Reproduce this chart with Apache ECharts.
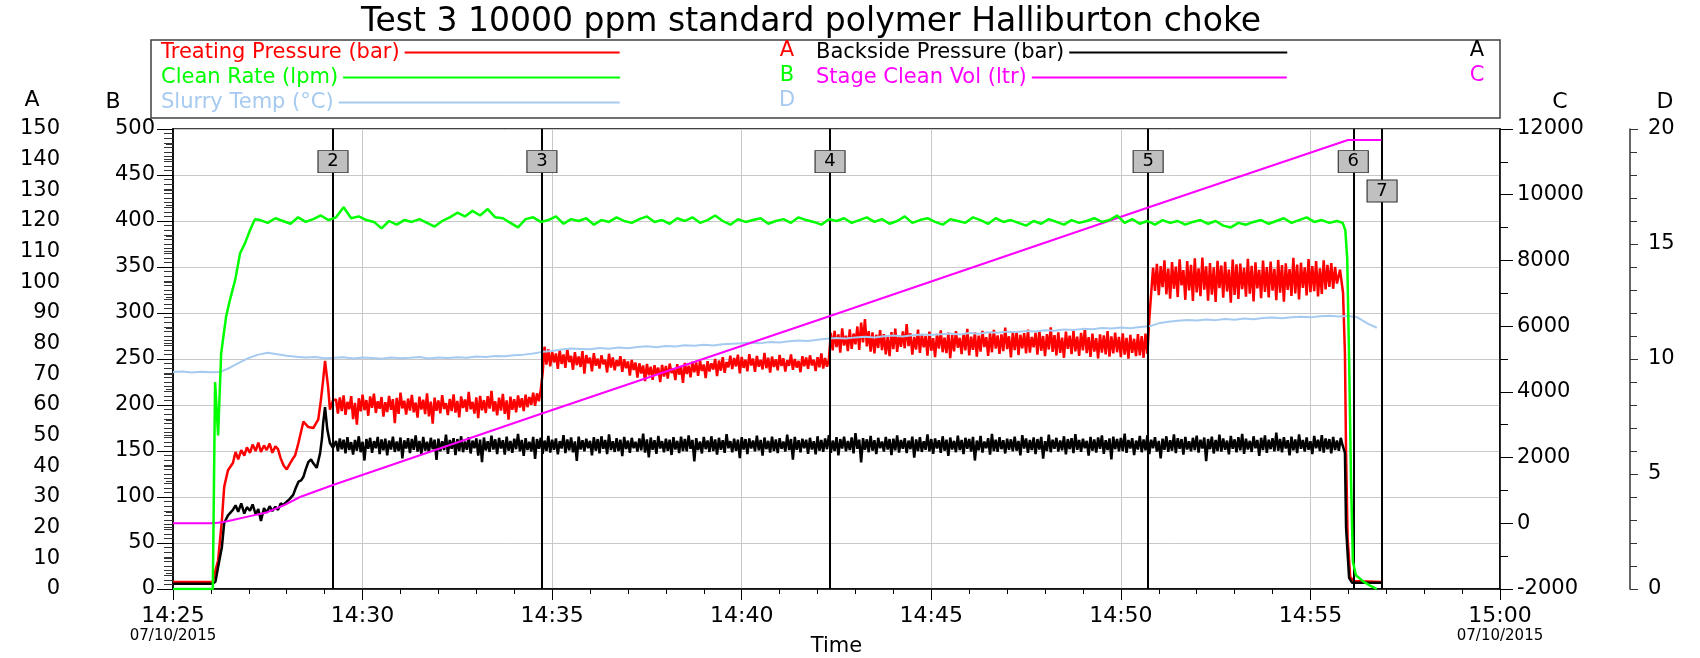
<!DOCTYPE html>
<html>
<head>
<meta charset="utf-8">
<script src="https://cdn.jsdelivr.net/npm/echarts@6/dist/echarts.min.js"></script>
<style>
html,body{margin:0;padding:0;background:#fff;}
#chart{width:1700px;height:658px;}
</style>
</head>
<body>
<div id="chart"></div>
<script>
// ---------- DATA (time in minutes after 14:25) ----------
const timeTickLabels = ['14:25','14:30','14:35','14:40','14:45','14:50','14:55','15:00'];
const dateLabel = '07/10/2015';

const eventTimes  = [4.22, 9.73, 17.33, 25.72, 31.13, 31.89];
const eventLabels = ['2','3','4','5','6','7'];

// Treating Pressure (bar) - axis A
const treatingLead = [[0,2.3],[1.05,2.3],[1.1,5.1],[1.19,9.3],[1.29,22.5],[1.35,33.3],[1.45,38.7],[1.58,41.1],[1.65,44.7],[1.72,42.3],[1.8,45.3],[1.88,43.5],[1.95,46.2],[2.03,44.4],[2.1,47.1],[2.18,45.0],[2.25,47.7],[2.32,44.7],[2.4,46.8],[2.47,45.3],[2.55,47.4],[2.62,44.4],[2.7,46.5],[2.77,45.6],[2.84,42.6],[2.92,40.2],[3.0,39.0],[3.08,40.8],[3.15,42.3],[3.22,43.5],[3.31,47.7],[3.44,54.6],[3.57,52.8],[3.70,52.5],[3.83,55.2],[3.90,61.5],[3.96,68.1],[4.01,74.4],[4.09,66.0],[4.14,58.5],[4.22,61.5]];
const treatingBody = [ // every 0.05 min from 4.30 to 30.70
61.8,57.2,62.5,58.0,63.1,56.8,61.0,58.6,62.9,55.4,
60.7,53.6,62.2,57.9,63.4,58.3,61.6,56.5,62.8,59.1,
63.7,57.4,61.2,58.8,62.6,56.2,60.9,57.7,63.0,58.4,
61.9,54.1,62.3,57.1,64.0,58.9,61.4,56.9,62.1,58.2,
63.3,57.6,60.8,55.9,62.7,58.5,61.7,57.0,63.8,56.3,
61.1,53.9,62.4,58.1,61.5,57.3,63.2,58.7,60.6,56.7,
62.0,58.0,63.5,57.5,61.3,56.0,62.8,59.0,61.8,57.8,
64.3,58.6,61.0,57.2,62.5,55.7,63.0,58.3,61.6,57.4,
62.9,58.8,64.6,57.9,61.2,56.6,62.4,58.2,63.6,57.1,
61.5,55.2,62.7,58.4,61.9,57.6,63.1,59.2,62.2,58.0,
63.4,59.3,62.6,60.1,64.0,59.7,63.8,61.2,65.0,
70.5,79.0,73.2,78.1,72.6,77.4,73.9,76.8,71.8,77.9,
73.4,76.5,72.1,78.3,74.0,76.0,71.5,77.2,73.0,75.8,
72.4,77.6,70.2,76.3,73.6,75.4,71.0,76.9,72.8,75.1,
71.9,76.2,73.3,74.8,70.6,76.7,72.2,75.5,71.3,74.6,
72.7,75.9,70.8,74.9,72.0,74.2,69.6,74.7,71.4,73.8,
68.9,73.6,70.3,72.9,67.8,73.4,69.7,72.5,68.2,73.0,
70.0,72.2,67.5,73.1,69.3,72.7,68.6,73.5,70.4,71.9,
68.1,73.3,69.9,72.4,67.2,73.7,70.1,72.8,69.0,74.1,
70.7,73.9,69.5,74.4,71.1,73.2,68.8,74.3,70.9,73.6,
71.6,75.0,69.4,74.5,71.2,75.6,70.5,74.0,72.3,76.1,
71.7,75.3,72.6,76.4,70.3,75.7,72.1,74.8,71.0,76.6,
72.9,75.1,70.8,76.0,72.5,74.7,71.6,77.0,72.0,75.4,
70.6,75.8,72.4,74.9,71.3,76.3,72.7,75.2,70.9,74.6,
72.8,76.5,71.5,75.0,72.2,74.4,70.7,75.9,72.6,75.5,
71.8,76.2,72.9,74.8,71.1,75.6,72.3,76.8,71.9,75.3,
72.5,74.9,
83.5,77.8,84.2,78.9,83.0,77.1,85.0,79.4,82.6,77.6,
84.7,78.3,83.3,79.8,85.6,78.0,86.9,80.4,88.0,79.1,
84.1,77.4,83.7,76.8,82.9,78.6,84.4,77.9,83.1,76.5,
82.4,75.9,83.8,78.2,84.9,77.3,82.7,79.0,84.0,78.5,
86.4,79.2,83.4,76.4,82.2,78.1,84.6,77.0,83.0,78.8,
82.5,76.1,83.9,77.7,81.8,75.6,83.2,78.4,84.3,77.2,
82.0,76.9,83.6,75.3,82.8,77.5,84.1,78.7,81.9,76.6,
83.3,77.8,84.8,76.2,82.3,78.0,83.7,75.8,82.6,77.4,
84.2,78.9,82.1,76.0,83.5,77.2,84.5,78.4,82.7,76.7,
83.0,77.6,85.2,78.2,82.4,75.5,83.8,77.9,84.0,76.3,
82.9,78.5,83.4,76.8,84.6,77.1,82.2,78.8,83.6,76.4,
84.3,77.7,82.5,75.9,83.1,78.1,85.3,77.3,82.8,76.2,
83.7,77.0,82.0,75.4,83.9,78.3,82.6,76.6,84.2,77.5,
82.3,76.0,83.5,77.8,84.8,76.9,82.1,75.7,83.3,77.4,
81.8,75.2,83.0,77.1,82.7,76.5,84.1,75.8,82.4,76.8,
83.6,77.2,82.2,75.6,83.4,76.4,81.9,75.1,82.9,77.0,
81.6,75.9,83.1,76.2,82.5,75.4,83.3,76.7,
88.0,96.5,104.8,97.2,106.0,95.8,105.3,98.4,107.2,96.1,
104.5,94.7,106.6,97.9,105.1,95.2,107.5,99.0,104.0,94.3,
106.9,97.4,105.7,93.9,107.8,96.7,104.6,95.5,108.1,97.6,
105.2,94.0,106.3,96.0,104.9,93.6,107.0,98.1,105.5,95.0,
106.7,97.0,104.2,93.4,107.4,95.9,105.9,94.6,106.1,97.8,
104.7,95.3,107.7,96.3,105.4,93.8,106.5,98.0,104.1,94.8,
107.1,96.9,105.0,95.1,106.8,97.3,104.4,94.2,107.3,96.6,
105.6,93.7,106.2,97.5,104.3,95.6,108.0,96.4,105.8,94.4,
106.4,98.2,104.9,95.7,107.6,96.8,105.3,97.1,106.9,95.4,
104.6,96.2,107.2,97.7,105.7,98.5,106.3,97.9,105.0,99.6];
const treatingTail = [[30.78,104.1],[30.86,96.6],[30.91,76.8],[30.94,44.4],[30.98,16.8],[31.05,3.9],[31.15,2.6],[31.87,2.3]];

// Backside Pressure (bar) - axis A
const backsideLead = [[0,1.7],[1.05,1.7],[1.12,2.4],[1.19,7.2],[1.29,13.7],[1.35,21.5],[1.45,24.0],[1.58,25.8],[1.65,27.3],[1.72,25.2],[1.8,27.9],[1.88,24.6],[1.95,26.7],[2.03,25.5],[2.1,27.6],[2.18,24.3],[2.25,26.1],[2.32,22.2],[2.4,26.4],[2.47,24.9],[2.55,27.0],[2.62,25.4],[2.7,26.8],[2.77,25.8],[2.84,27.9],[2.91,27.4],[3.0,28.5],[3.08,29.4],[3.17,30.7],[3.24,33.0],[3.31,35.0],[3.38,35.4],[3.44,36.6],[3.5,39.0],[3.57,41.4],[3.64,42.3],[3.70,41.0],[3.79,39.5],[3.88,44.3],[3.93,49.2],[3.96,54.0],[4.01,59.3],[4.07,52.0],[4.14,47.6],[4.22,46.0]];
const backsideBody = [ // every 0.05 min from 4.30 to 30.80
48.3,44.9,49.1,45.6,48.7,44.2,49.5,45.3,47.9,43.8,
48.6,45.1,49.8,44.6,48.0,41.9,48.9,45.7,49.3,44.4,
48.2,45.9,49.6,44.0,48.8,45.2,49.0,43.6,48.4,45.5,
49.7,44.7,48.1,45.0,49.4,42.6,48.5,45.8,49.2,44.3,
48.9,45.4,50.1,44.8,48.3,43.9,49.6,45.1,48.0,44.5,
49.3,45.6,48.7,42.1,49.0,44.9,48.2,45.3,50.3,44.1,
48.6,45.7,49.2,43.7,48.9,45.0,49.8,44.6,48.1,45.4,
49.5,44.2,48.4,45.9,49.1,43.5,48.7,41.4,49.4,45.2,
48.2,44.7,50.0,45.5,48.8,44.0,49.3,45.8,48.5,43.8,
49.7,45.1,48.3,44.4,49.0,45.6,50.6,44.9,48.6,43.4,
49.2,45.3,48.0,44.8,49.6,42.4,48.9,45.7,49.3,44.1,
48.4,45.0,49.9,44.5,48.7,45.4,49.1,43.9,48.2,45.8,
50.2,44.3,48.8,45.2,49.4,44.6,48.1,41.8,49.7,45.5,
48.5,44.9,49.0,45.9,48.3,43.6,49.5,45.1,48.9,44.2,
49.8,45.7,48.6,44.0,50.4,45.3,48.2,44.7,49.2,45.0,
48.7,43.3,49.6,45.6,48.4,44.4,49.3,45.9,48.0,44.8,
49.1,45.2,50.7,44.5,48.8,42.9,49.4,45.4,48.5,44.1,
49.9,45.8,48.2,44.6,49.0,45.1,48.7,43.7,49.5,45.5,
48.3,44.3,49.7,45.0,48.9,44.9,50.1,45.7,48.6,41.6,
49.2,45.3,48.1,44.2,49.6,45.6,48.4,44.7,49.8,45.0,
48.8,43.8,49.3,45.4,48.5,44.4,50.5,45.9,48.2,44.6,
49.0,45.1,48.7,42.7,49.5,45.5,48.9,44.0,49.1,45.8,
48.4,44.9,50.0,45.2,48.6,43.5,49.4,45.6,48.3,44.5,
49.7,45.0,48.8,44.3,49.2,45.7,48.1,44.8,50.3,45.3,
48.9,42.2,49.6,45.4,48.5,44.6,49.0,45.9,48.7,44.1,
49.3,45.5,48.2,43.9,49.8,45.1,48.6,44.7,49.1,45.6,
50.2,44.4,48.4,45.0,49.5,43.6,48.9,45.8,49.7,44.9,
48.3,45.3,49.4,44.2,50.8,45.7,48.7,41.3,49.2,45.4,
48.8,44.6,49.9,45.1,48.5,44.0,49.3,45.9,48.1,44.8,
49.6,45.5,48.9,43.7,49.0,45.2,50.1,44.5,48.6,45.7,
49.2,44.3,48.4,45.6,49.7,42.8,48.8,45.0,49.5,44.7,
48.2,45.4,50.4,44.9,48.9,44.1,49.1,45.8,48.5,44.4,
49.8,45.1,48.7,43.4,49.4,45.5,48.3,44.6,50.0,45.3,
48.6,44.0,49.3,45.7,48.9,44.8,49.6,41.9,48.4,45.2,
49.9,44.5,48.1,45.9,49.2,43.8,50.6,45.0,48.7,44.7,
49.5,45.6,48.5,44.2,49.0,45.4,48.8,44.9,49.7,45.1,
48.3,43.6,50.2,45.8,49.1,44.4,48.6,45.3,49.4,44.0,
48.9,45.5,49.6,42.5,48.2,45.0,50.3,44.6,48.7,45.7,
49.3,44.8,48.4,45.2,49.8,43.9,48.9,45.6,49.2,44.3,
50.5,45.4,48.6,44.7,49.0,45.9,48.3,43.5,49.6,45.1,
48.8,44.5,49.4,45.7,50.1,44.1,48.5,45.3,49.1,42.3,
49.7,45.6,48.9,44.9,49.3,45.0,50.7,44.4,48.6,45.8,
49.2,43.7,48.4,45.5,49.9,44.6,48.8,45.2,50.2,44.0,
48.7,45.9,49.5,44.8,48.3,42.6,49.0,45.4,49.8,44.7,
48.5,45.1,50.4,44.3,49.2,45.7,48.9,43.8,49.6,45.5,
48.2,44.9,49.3,45.3,50.0,44.5,48.7,45.8,49.4,41.7,
48.9,45.6,49.7,44.2,48.6,45.0,50.3,44.8,49.1,45.4,
48.4,43.9,49.9,45.7,48.8,44.6,49.5,45.2,50.6,44.1,
49.0,45.5,48.3,44.7,49.8,45.9,48.6,43.4,49.3,45.3,
50.1,44.4,48.7,45.6,49.2,44.9,51.0,45.1,48.9,44.6,
49.5,45.8,48.5,43.6,49.7,45.2,48.8,44.3,50.4,45.7,
48.6,44.8,49.4,45.4,48.2,44.0,49.9,45.9,48.7,45.0,
50.2,44.5,49.1,45.6,48.9,44.2,49.6,45.3,48.4,45.1,
49.3];
const backsideTail = [[30.85,46.8],[30.91,44.4],[30.94,20.1],[30.97,13.8],[31.02,3.6],[31.1,2.0],[31.87,2.0]];

// Clean Rate (lpm) - axis B
const cleanRateLead = [[0,0],[1.05,0],[1.11,225],[1.19,167],[1.27,256],[1.40,296],[1.50,314],[1.64,336],[1.77,365],[1.90,376],[2.03,390],[2.16,402]];
const cleanRateBody = [ // every 0.2 min from 2.3 to 30.7
401,398,403,400,397,404,399,402,406,401,
404,415,403,405,401,399,392,400,396,401,
399,402,398,394,400,404,409,405,411,406,
413,404,403,398,393,402,404,399,401,405,
397,402,400,403,396,401,399,404,400,398,
402,405,399,401,397,403,400,404,398,401,
406,400,396,402,399,401,403,397,400,402,
398,404,401,399,396,402,400,403,398,401,
404,399,402,397,400,405,398,401,403,399,
396,402,400,398,404,401,397,403,399,401,
398,395,400,397,402,399,396,401,398,400,
403,399,401,406,398,402,397,400,396,401,
398,400,396,399,401,397,400,395,393,398,
396,399,401,397,400,403,398,401,404,399,
401,398,400];
const cleanRateTail = [[30.85,398],[30.92,390],[30.97,360],[31.02,250],[31.07,120],[31.12,30],[31.2,15],[31.4,8],[31.6,3],[31.75,0]];

// Stage Clean Vol (ltr) - axis C
const stageVol = [[0,0],[1.05,0],[1.3,30],[1.58,100],[2.0,210],[2.47,330],[2.91,540],[3.35,800],[4.22,1165],[9.73,3340],[17.33,6309],[25.72,9610],[30.99,11665],[31.87,11665]];

// Slurry Temp (°C) - axis D, every 0.25 min from 0 to 31.75
const slurryTemp = [
9.43,9.46,9.41,9.45,9.42,9.44,9.62,9.84,10.05,10.19,
10.27,10.21,10.14,10.10,10.06,10.09,10.03,10.05,10.08,10.02,
10.06,10.04,10.01,10.07,10.03,10.05,10.09,10.02,10.06,10.04,
10.08,10.05,10.11,10.09,10.13,10.12,10.16,10.19,10.24,10.31,
10.35,10.41,10.46,10.44,10.42,10.48,10.45,10.50,10.47,10.52,
10.55,10.51,10.57,10.54,10.60,10.58,10.62,10.59,10.64,10.66,
10.68,10.71,10.69,10.74,10.72,10.77,10.80,10.78,10.84,10.88,
10.91,10.89,10.94,10.97,10.93,10.99,11.02,10.98,11.03,11.06,
11.04,11.08,11.11,11.07,11.13,11.10,11.16,11.14,11.19,11.17,
11.22,11.20,11.25,11.23,11.28,11.26,11.31,11.29,11.35,11.33,
11.37,11.34,11.39,11.42,11.55,11.62,11.66,11.70,11.67,11.72,
11.69,11.74,11.71,11.76,11.73,11.78,11.80,11.77,11.82,11.84,
11.81,11.86,11.88,11.85,11.87,11.80,11.55,11.36];

// ---------- BUILD ----------
function sampled(start, step, vals) {
  return vals.map((v, i) => [Math.round((start + i * step) * 1000) / 1000, v]);
}
const treating = treatingLead.concat(sampled(4.3, 0.05, treatingBody), treatingTail);
const backside = backsideLead.concat(sampled(4.3, 0.05, backsideBody), backsideTail);
const cleanRate = cleanRateLead.concat(sampled(2.3, 0.2, cleanRateBody), cleanRateTail);
const slurry = sampled(0, 0.25, slurryTemp);

const FONT = 'DejaVu Sans';
const C_RED = '#ff0000', C_GREEN = '#00ff00', C_BLACK = '#000000', C_MAG = '#ff00ff', C_BLUE = '#a6caf0';

const chart = echarts.init(document.getElementById('chart'), null, {renderer: 'canvas'});

function yAx(o) {
  return Object.assign({
    type: 'value',
    axisLine: {show: true, lineStyle: {color: '#000', width: 1.5}},
    axisTick: {show: true, lineStyle: {color: '#000', width: 1}},
    minorTick: {show: true, lineStyle: {color: '#000', width: 1}},
    splitLine: {show: false},
    nameLocation: 'end',
    nameGap: 16
  }, o);
}
const labelStyle = {margin: 18, color: '#000', fontSize: 21, fontFamily: FONT, formatter: v => String(v)};

const eventLevels = eventLabels.map((l, i) => i === eventLabels.length - 1 ? 432.6 : 464.5);
const letterFont = '21px "DejaVu Sans"';

const option = {
  animation: false,
  backgroundColor: '#fff',
  title: {
    text: 'Test 3 10000 ppm standard polymer Halliburton choke',
    left: 361, top: 6, padding: 0,
    textStyle: {fontSize: 33, fontWeight: 'normal', fontFamily: FONT, color: '#000'}
  },
  grid: {left: 173, right: 200, top: 129, bottom: 69, show: true, borderColor: '#000', borderWidth: 1.5,
    backgroundColor: 'transparent', containLabel: false, outerBoundsMode: 'none'},
  legend: [
    {data: ['Treating Pressure (bar)'], left: 161, top: 42, itemWidth: 215},
    {data: ['Clean Rate (lpm)'], left: 161, top: 67, itemWidth: 277},
    {data: ['Slurry Temp (°C)'], left: 161, top: 92, itemWidth: 281},
    {data: ['Backside Pressure (bar)'], left: 816, top: 42, itemWidth: 218},
    {data: ['Stage Clean Vol (ltr)'], left: 816, top: 67, itemWidth: 255}
  ].map((l, i) => Object.assign({
    align: 'right', icon: 'rect', itemHeight: 2, padding: 0, selectedMode: false,
    textStyle: {fontSize: 21, fontFamily: FONT, color: [C_RED, C_GREEN, C_BLUE, C_BLACK, C_MAG][i]}
  }, l)),
  xAxis: {
    type: 'value', min: 0, max: 35, interval: 5,
    axisLine: {show: true, lineStyle: {color: '#000', width: 1.5}},
    axisTick: {show: true, length: 11, lineStyle: {color: '#000'}},
    minorTick: {show: true, splitNumber: 5, length: 5, lineStyle: {color: '#000'}},
    splitLine: {show: true, lineStyle: {color: '#c8c8c8', width: 1}},
    axisLabel: {
      margin: 15,
      formatter: function (v) {
        const i = Math.round(v / 5);
        const s = timeTickLabels[i];
        return (i === 0 || i === timeTickLabels.length - 1) ? '{t|' + s + '}\n{d|' + dateLabel + '}' : '{t|' + s + '}';
      },
      rich: {
        t: {fontSize: 22, fontFamily: FONT, color: '#000', lineHeight: 24},
        d: {fontSize: 15, fontFamily: FONT, color: '#000', lineHeight: 16}
      }
    },
    name: 'Time', nameLocation: 'middle', nameGap: 47, nameMoveOverlap: false,
    nameTextStyle: {fontSize: 21, fontFamily: FONT, color: '#000'}
  },
  yAxis: [
    yAx({position: 'left', offset: 96, min: 0, max: 150, interval: 10,
      axisTick: {show: true, length: 9, lineStyle: {color: '#333'}},
      minorTick: {show: true, splitNumber: 2, length: 7, lineStyle: {color: '#333'}},
      axisLine: {show: true, lineStyle: {color: '#333', width: 1.5}},
      axisLabel: Object.assign({}, labelStyle, {margin: 17})}),
    yAx({position: 'left', offset: 0, min: 0, max: 500, interval: 50,
      axisTick: {show: true, length: 16, lineStyle: {color: '#000'}},
      minorTick: {show: true, splitNumber: 10, length: 9, lineStyle: {color: '#333'}},
      axisLabel: Object.assign({}, labelStyle),
      splitLine: {show: true, lineStyle: {color: '#c8c8c8', width: 1}},
      name: 'B', nameTextStyle: {fontSize: 22, fontFamily: FONT, color: '#000', padding: [0, 120, 0, 0]}}),
    yAx({position: 'right', offset: 0, min: -2000, max: 12000, interval: 2000,
      axisTick: {show: true, length: 13, lineStyle: {color: '#000'}},
      minorTick: {show: true, splitNumber: 2, length: 8, lineStyle: {color: '#000'}},
      axisLabel: Object.assign({}, labelStyle, {margin: 17}),
      name: 'C', nameTextStyle: {fontSize: 22, fontFamily: FONT, color: '#000', padding: [0, 0, 0, 120]}}),
    yAx({position: 'right', offset: 130, min: 0, max: 20, interval: 5,
      axisTick: {show: true, length: 8, lineStyle: {color: '#333'}},
      minorTick: {show: true, splitNumber: 5, length: 7, lineStyle: {color: '#333'}},
      axisLine: {show: true, lineStyle: {color: '#333', width: 1.5}},
      axisLabel: Object.assign({}, labelStyle),
      name: 'D', nameTextStyle: {fontSize: 22, fontFamily: FONT, color: '#000', padding: [0, 0, 0, 70]}})
  ],
  graphic: [
    {type: 'rect', shape: {x: 151, y: 40, width: 1349, height: 78}, style: {fill: 'none', stroke: '#404040', lineWidth: 1.5}, silent: true},
    {type: 'text', x: 32, y: 100, style: {text: 'A', fill: '#000', font: '22px "DejaVu Sans"', textAlign: 'center', textVerticalAlign: 'middle'}},
    {type: 'text', x: 787, y: 51, style: {text: 'A', fill: C_RED, font: letterFont, textAlign: 'center', textVerticalAlign: 'middle'}},
    {type: 'text', x: 787, y: 76, style: {text: 'B', fill: C_GREEN, font: letterFont, textAlign: 'center', textVerticalAlign: 'middle'}},
    {type: 'text', x: 787, y: 101, style: {text: 'D', fill: C_BLUE, font: letterFont, textAlign: 'center', textVerticalAlign: 'middle'}},
    {type: 'text', x: 1477, y: 51, style: {text: 'A', fill: C_BLACK, font: letterFont, textAlign: 'center', textVerticalAlign: 'middle'}},
    {type: 'text', x: 1477, y: 76, style: {text: 'C', fill: C_MAG, font: letterFont, textAlign: 'center', textVerticalAlign: 'middle'}}
  ],
  series: [
    {name: 'Treating Pressure (bar)', type: 'line', yAxisIndex: 0, data: treating, showSymbol: false, symbol: 'none',
      color: C_RED, lineStyle: {color: C_RED, width: 2.5}, z: 2},
    {name: 'Backside Pressure (bar)', type: 'line', yAxisIndex: 0, data: backside, showSymbol: false, symbol: 'none',
      color: C_BLACK, lineStyle: {color: C_BLACK, width: 2.5}, z: 3},
    {name: 'Slurry Temp (°C)', type: 'line', yAxisIndex: 3, data: slurry, showSymbol: false, symbol: 'none',
      color: C_BLUE, lineStyle: {color: C_BLUE, width: 2}, z: 4},
    {name: 'Stage Clean Vol (ltr)', type: 'line', yAxisIndex: 2, data: stageVol, showSymbol: false, symbol: 'none',
      color: C_MAG, lineStyle: {color: C_MAG, width: 2}, z: 5},
    {name: 'Clean Rate (lpm)', type: 'line', yAxisIndex: 1, data: cleanRate, showSymbol: false, symbol: 'none',
      color: C_GREEN, lineStyle: {color: C_GREEN, width: 2.5}, z: 6,
      markLine: {
        silent: true, symbol: ['none', 'none'], animation: false,
        label: {show: false},
        lineStyle: {color: '#000', width: 2, type: 'solid'},
        emphasis: {disabled: true},
        data: eventTimes.map(t => ({xAxis: t}))
      },
      markPoint: {
        silent: true, animation: false,
        symbol: 'rect', symbolSize: [30, 22],
        itemStyle: {color: '#c0c0c0', borderColor: '#333', borderWidth: 1},
        label: {show: true, color: '#000', fontSize: 18, fontFamily: FONT, formatter: function (p) { return p.name; }},
        data: eventTimes.map((t, i) => ({name: eventLabels[i], coord: [t, eventLevels[i]]}))
      }
    }
  ]
};
chart.setOption(option);
</script>
</body>
</html>
